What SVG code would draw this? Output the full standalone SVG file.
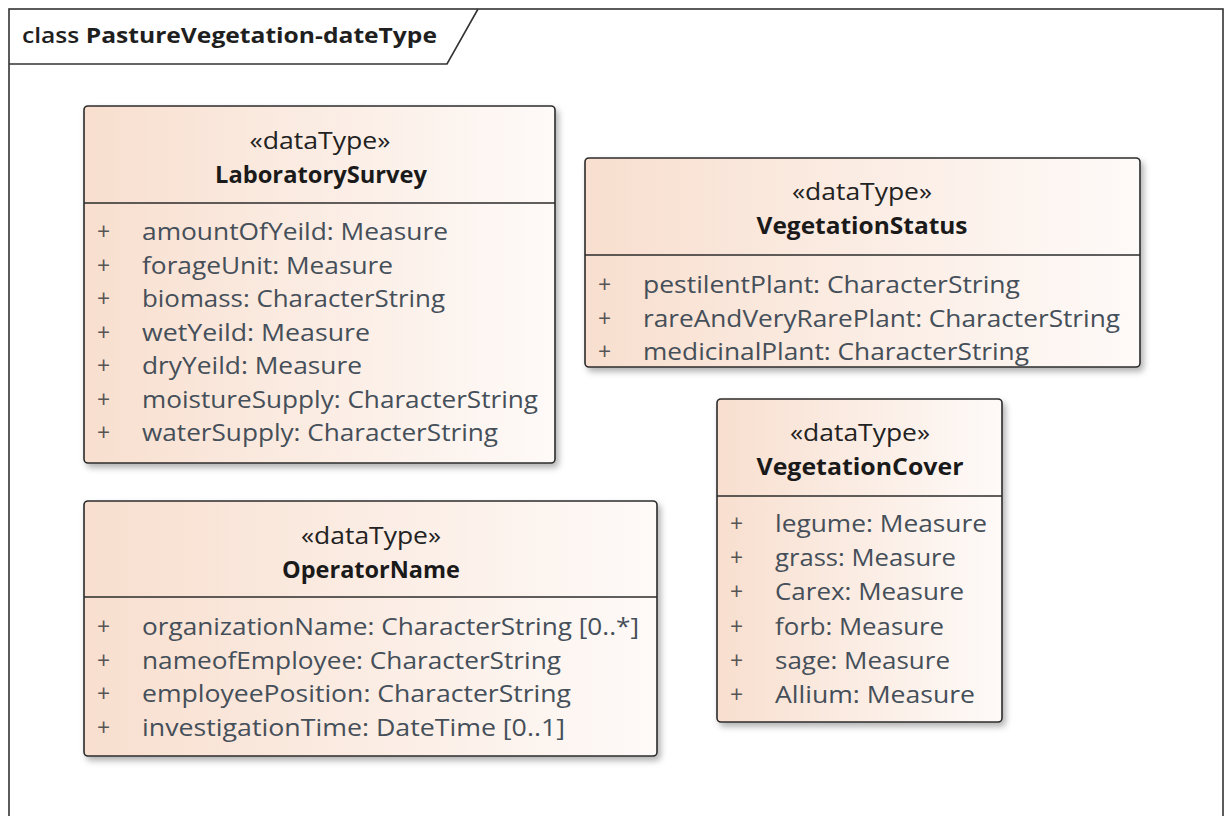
<svg xmlns="http://www.w3.org/2000/svg" width="1232" height="816" viewBox="0 0 1232 816">
<defs>
<linearGradient id="fill" x1="0" y1="0" x2="1" y2="0">
<stop offset="0" stop-color="#f8dfcf"/>
<stop offset="1" stop-color="#fefaf8"/>
</linearGradient>
<filter id="sh" x="-5%" y="-5%" width="115%" height="120%">
<feDropShadow dx="3" dy="4" stdDeviation="3" flood-color="#000" flood-opacity="0.3"/>
</filter>
</defs>
<style>
.box{fill:url(#fill);stroke:#2b2b2b;stroke-width:1.6;filter:url(#sh)}
.div{stroke:#2b2b2b;stroke-width:1.6}
.st{font-family:"Open Sans","Noto Sans",sans-serif;font-size:23px;fill:#222;text-anchor:middle}
.nm{font-family:"Open Sans","Noto Sans",sans-serif;font-size:23px;font-weight:bold;fill:#1a1a1a;text-anchor:middle}
.at{font-family:"Open Sans","Noto Sans",sans-serif;font-size:23px;fill:#454f59}
.pl{font-family:"Open Sans","Noto Sans",sans-serif;font-size:23px;fill:#555}
.frame{fill:none;stroke:#333;stroke-width:1.6}
.title{font-family:"Open Sans","Noto Sans",sans-serif;font-size:22px;fill:#1f1f1f;font-weight:600}
</style>
<rect width="1232" height="816" fill="#fff"/>
<g id="frame">
<rect class="frame" x="9" y="9" width="1214" height="820"/>
<path class="frame" d="M9,64 H447 L478,9"/>
<text class="title" x="22" y="43" textLength="415" lengthAdjust="spacingAndGlyphs">class <tspan font-weight="bold">PastureVegetation-dateType</tspan></text>
</g>
<g id="connectors"/>
<g id="LaboratorySurvey">
<rect class="box" x="84" y="106" width="471" height="357" rx="4"/>
<line class="div" x1="84" y1="203" x2="555" y2="203"/>
<text class="st" x="320" y="149" textLength="141" lengthAdjust="spacingAndGlyphs">«dataType»</text>
<text class="nm" x="321" y="183" textLength="212" lengthAdjust="spacingAndGlyphs">LaboratorySurvey</text>
<g class="pl"><text x="97" y="240">+</text><text x="97" y="273.5">+</text><text x="97" y="307">+</text><text x="97" y="340.5">+</text><text x="97" y="374">+</text><text x="97" y="407.5">+</text><text x="97" y="441">+</text></g>
<text class="at" x="142" y="240" textLength="306" lengthAdjust="spacingAndGlyphs">amountOfYeild: Measure</text>
<text class="at" x="142" y="273.5" textLength="251" lengthAdjust="spacingAndGlyphs">forageUnit: Measure</text>
<text class="at" x="142" y="307" textLength="303" lengthAdjust="spacingAndGlyphs">biomass: CharacterString</text>
<text class="at" x="142" y="340.5" textLength="228" lengthAdjust="spacingAndGlyphs">wetYeild: Measure</text>
<text class="at" x="142" y="374" textLength="220" lengthAdjust="spacingAndGlyphs">dryYeild: Measure</text>
<text class="at" x="142" y="407.5" textLength="396" lengthAdjust="spacingAndGlyphs">moistureSupply: CharacterString</text>
<text class="at" x="142" y="441" textLength="356" lengthAdjust="spacingAndGlyphs">waterSupply: CharacterString</text>
</g>
<g id="VegetationStatus">
<rect class="box" x="585" y="158" width="555" height="209" rx="4"/>
<line class="div" x1="585" y1="255" x2="1140" y2="255"/>
<text class="st" x="862" y="200" textLength="140" lengthAdjust="spacingAndGlyphs">«dataType»</text>
<text class="nm" x="862" y="234" textLength="211" lengthAdjust="spacingAndGlyphs">VegetationStatus</text>
<g class="pl"><text x="598" y="293">+</text><text x="598" y="326.5">+</text><text x="598" y="360">+</text></g>
<text class="at" x="643" y="293" textLength="377" lengthAdjust="spacingAndGlyphs">pestilentPlant: CharacterString</text>
<text class="at" x="643" y="326.5" textLength="477" lengthAdjust="spacingAndGlyphs">rareAndVeryRarePlant: CharacterString</text>
<text class="at" x="643" y="360" textLength="386" lengthAdjust="spacingAndGlyphs">medicinalPlant: CharacterString</text>
</g>
<g id="VegetationCover">
<rect class="box" x="717" y="399" width="285" height="323" rx="4"/>
<line class="div" x1="717" y1="496" x2="1002" y2="496"/>
<text class="st" x="860" y="441" textLength="140" lengthAdjust="spacingAndGlyphs">«dataType»</text>
<text class="nm" x="860" y="475" textLength="207" lengthAdjust="spacingAndGlyphs">VegetationCover</text>
<g class="pl"><text x="730" y="532">+</text><text x="730" y="566">+</text><text x="730" y="600">+</text><text x="730" y="635">+</text><text x="730" y="669">+</text><text x="730" y="703">+</text></g>
<text class="at" x="775" y="532" textLength="212" lengthAdjust="spacingAndGlyphs">legume: Measure</text>
<text class="at" x="775" y="566" textLength="181" lengthAdjust="spacingAndGlyphs">grass: Measure</text>
<text class="at" x="775" y="600" textLength="189" lengthAdjust="spacingAndGlyphs">Carex: Measure</text>
<text class="at" x="775" y="635" textLength="169" lengthAdjust="spacingAndGlyphs">forb: Measure</text>
<text class="at" x="775" y="669" textLength="175" lengthAdjust="spacingAndGlyphs">sage: Measure</text>
<text class="at" x="775" y="703" textLength="200" lengthAdjust="spacingAndGlyphs">Allium: Measure</text>
</g>
<g id="OperatorName">
<rect class="box" x="84" y="501" width="573" height="255" rx="4"/>
<line class="div" x1="84" y1="597" x2="657" y2="597"/>
<text class="st" x="371" y="544" textLength="140" lengthAdjust="spacingAndGlyphs">«dataType»</text>
<text class="nm" x="371" y="578" textLength="178" lengthAdjust="spacingAndGlyphs">OperatorName</text>
<g class="pl"><text x="97" y="635">+</text><text x="97" y="668.5">+</text><text x="97" y="702">+</text><text x="97" y="735.5">+</text></g>
<text class="at" x="142" y="635" textLength="497" lengthAdjust="spacingAndGlyphs">organizationName: CharacterString [0..*]</text>
<text class="at" x="142" y="668.5" textLength="419" lengthAdjust="spacingAndGlyphs">nameofEmployee: CharacterString</text>
<text class="at" x="142" y="702" textLength="429" lengthAdjust="spacingAndGlyphs">employeePosition: CharacterString</text>
<text class="at" x="142" y="735.5" textLength="423" lengthAdjust="spacingAndGlyphs">investigationTime: DateTime [0..1]</text>
</g>
</svg>
